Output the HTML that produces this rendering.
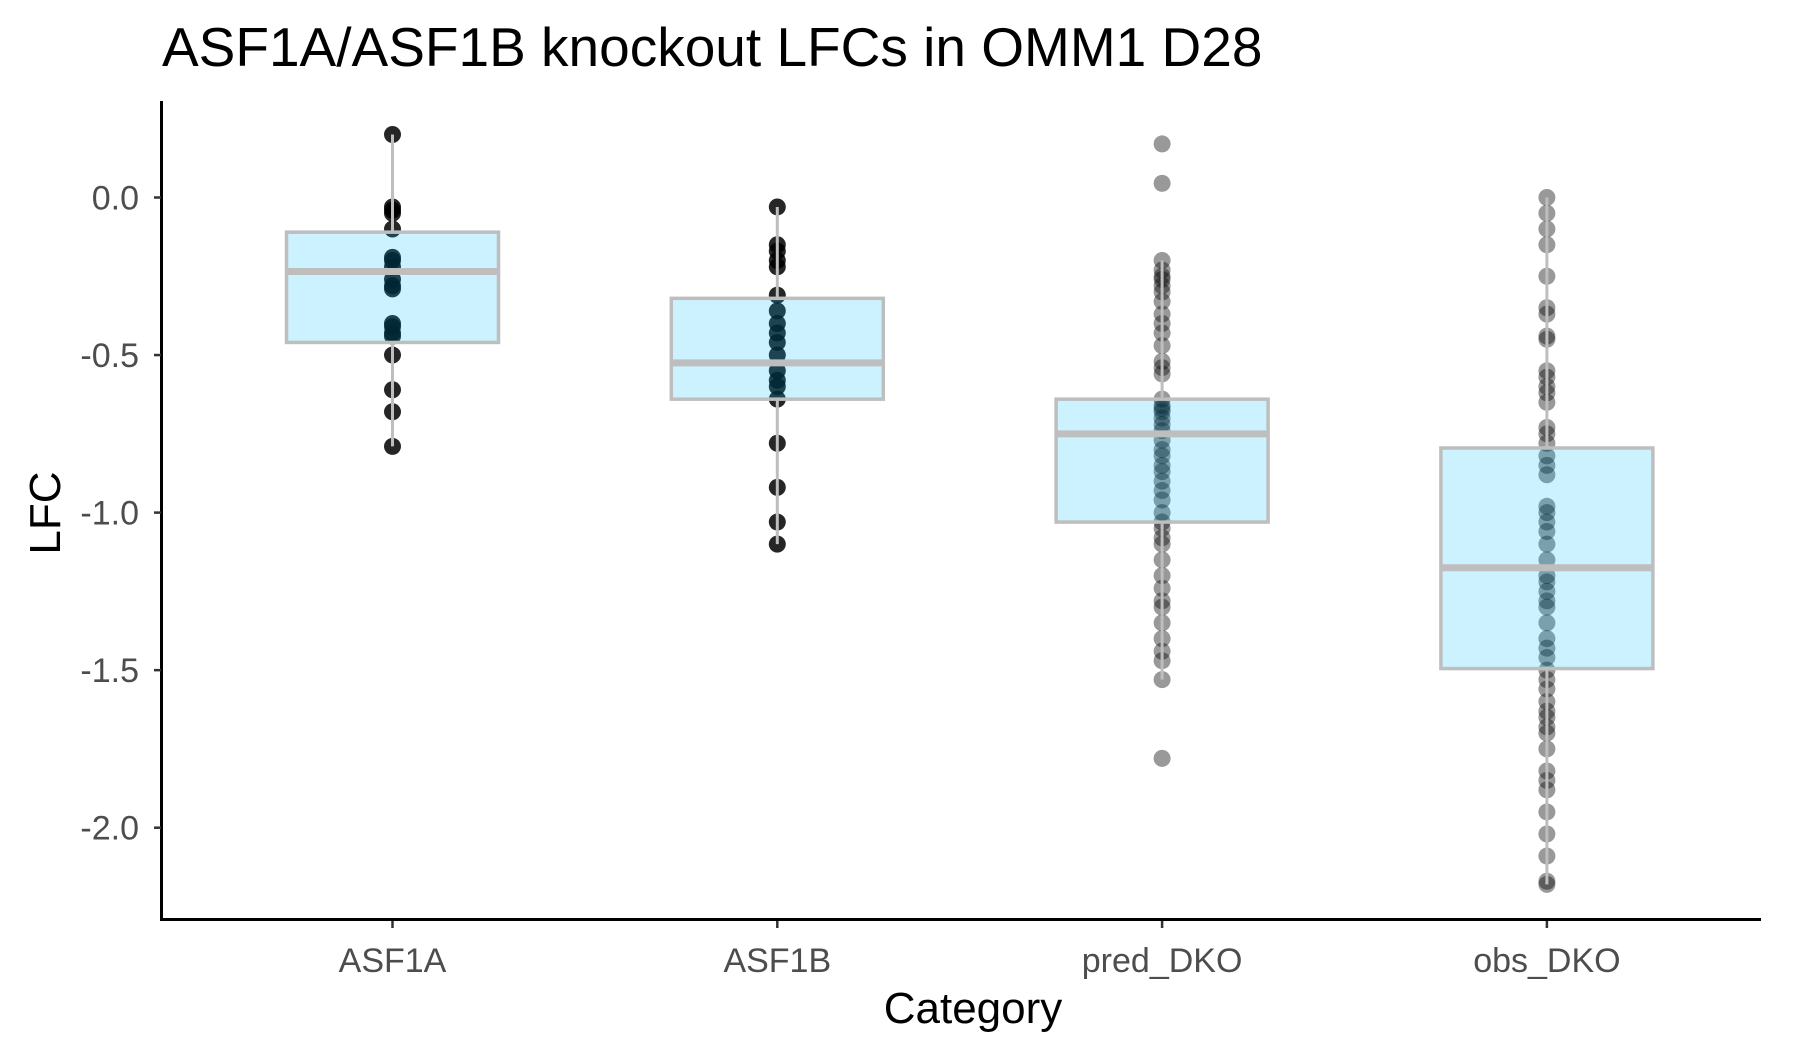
<!DOCTYPE html>
<html><head><meta charset="utf-8"><style>
html,body{margin:0;padding:0;background:#fff;}
svg{display:block;font-family:"Liberation Sans",sans-serif;}
</style></head><body>
<svg id="chart" width="1800" height="1050" viewBox="0 0 1800 1050">
<text x="162" y="66" font-size="55" fill="#000">ASF1A/ASF1B knockout LFCs in OMM1 D28</text>
<g id="marks"></g>
<line x1="161.5" y1="101" x2="161.5" y2="921" stroke="#000" stroke-width="3"/>
<line x1="160" y1="919.5" x2="1761" y2="919.5" stroke="#000" stroke-width="3"/>
<g id="yticks"></g><g id="xticks"></g>
<text x="0" y="0" transform="translate(60,513) rotate(-90)" text-anchor="middle" font-size="44" fill="#000">LFC</text>
<text x="973" y="1023" text-anchor="middle" font-size="44" fill="#000">Category</text>
</svg>
<script>
const categories = ["ASF1A","ASF1B","pred_DKO","obs_DKO"];
const yTicks = [0, -0.5, -1, -1.5, -2];
const yTickLabels = ["0.0","-0.5","-1.0","-1.5","-2.0"];
const q1s = [-0.46, -0.64, -1.03, -1.495];
const medians = [-0.235, -0.525, -0.75, -1.175];
const q3s = [-0.11, -0.32, -0.64, -0.795];
const whiskerLo = [-0.79, -1.10, -1.53, -2.18];
const whiskerHi = [0.20, -0.03, -0.20, 0.0];
const pointsASF1A = [0.2,-0.03,-0.04,-0.05,-0.1,-0.19,-0.2,-0.22,-0.26,-0.28,-0.29,-0.4,-0.41,-0.43,-0.44,-0.5,-0.61,-0.68,-0.79];
const pointsASF1B = [-0.03,-0.15,-0.17,-0.2,-0.22,-0.31,-0.36,-0.4,-0.43,-0.46,-0.5,-0.55,-0.58,-0.6,-0.64,-0.78,-0.92,-1.03,-1.1];
const pointsPred = [0.17,0.045,-0.2,-0.23,-0.25,-0.26,-0.28,-0.3,-0.33,-0.37,-0.4,-0.43,-0.47,-0.52,-0.54,-0.56,-0.64,-0.66,-0.67,-0.68,-0.7,-0.72,-0.74,-0.77,-0.8,-0.82,-0.85,-0.87,-0.9,-0.93,-0.96,-1.0,-1.03,-1.05,-1.08,-1.1,-1.15,-1.2,-1.24,-1.28,-1.3,-1.35,-1.4,-1.44,-1.47,-1.53,-1.78];
const pointsObs = [0.0,-0.05,-0.1,-0.15,-0.25,-0.35,-0.37,-0.44,-0.45,-0.55,-0.57,-0.6,-0.62,-0.65,-0.73,-0.75,-0.78,-0.82,-0.85,-0.88,-0.98,-1.0,-1.03,-1.06,-1.1,-1.15,-1.2,-1.22,-1.25,-1.28,-1.3,-1.35,-1.4,-1.43,-1.46,-1.5,-1.53,-1.56,-1.6,-1.63,-1.65,-1.68,-1.7,-1.75,-1.82,-1.85,-1.88,-1.95,-2.02,-2.09,-2.17,-2.18];
const pointSets = [pointsASF1A, pointsASF1B, pointsPred, pointsObs];

const NS = "http://www.w3.org/2000/svg";
function yScale(v){ return 197.5 - v * 315.1; }
function xScale(i){ return 392.5 + i * 384.8; }
function mk(tag, attrs, parent){
  const e = document.createElementNS(NS, tag);
  for (const k in attrs) e.setAttribute(k, attrs[k]);
  parent.appendChild(e);
  return e;
}
const marks = document.getElementById('marks');
const half = 106;
categories.forEach((c, i) => {
  const x = xScale(i);
  const g = mk('g', {}, marks);
  
  
  const alpha = i < 2 ? 0.85 : 0.4;
  pointSets[i].forEach(v => {
    const p = mk('circle', {cx: x, cy: yScale(v), r: 8.5, fill: '#000', 'fill-opacity': alpha}, g);
    
    
  });
  const w1 = mk('line', {x1: x, x2: x, y1: yScale(whiskerHi[i]), y2: yScale(q3s[i]), stroke: '#bebebe', 'stroke-width': 3}, g);
  
  
  const w2 = mk('line', {x1: x, x2: x, y1: yScale(q1s[i]), y2: yScale(whiskerLo[i]), stroke: '#bebebe', 'stroke-width': 3}, g);
  
  
  const b = mk('rect', {x: x - half, y: yScale(q3s[i]), width: 2 * half, height: yScale(q1s[i]) - yScale(q3s[i]), fill: 'rgb(0,191,255)', 'fill-opacity': 0.2, stroke: '#bebebe', 'stroke-width': 3.5}, g);
  
  
  const m = mk('line', {x1: x - half, x2: x + half, y1: yScale(medians[i]), y2: yScale(medians[i]), stroke: '#bebebe', 'stroke-width': 7}, g);
  
  
});
const yt = document.getElementById('yticks');
yTicks.forEach((v, i) => {
  const t = mk('line', {x1: 154, x2: 161, y1: yScale(v), y2: yScale(v), stroke: '#333', 'stroke-width': 2.5}, yt);
  
  
  const l = mk('text', {x: 139, y: yScale(v) + 12, 'text-anchor': 'end', 'font-size': 34, fill: '#4d4d4d'}, yt);
  l.textContent = yTickLabels[i];
  
  
});
const xt = document.getElementById('xticks');
categories.forEach((c, i) => {
  const x = xScale(i);
  const t = mk('line', {x1: x, x2: x, y1: 921, y2: 928, stroke: '#333', 'stroke-width': 2.5}, xt);
  
  
  const l = mk('text', {x: x, y: 972, 'text-anchor': 'middle', 'font-size': 34, fill: '#4d4d4d'}, xt);
  l.textContent = c;
  
  
});
</script>
</body></html>
